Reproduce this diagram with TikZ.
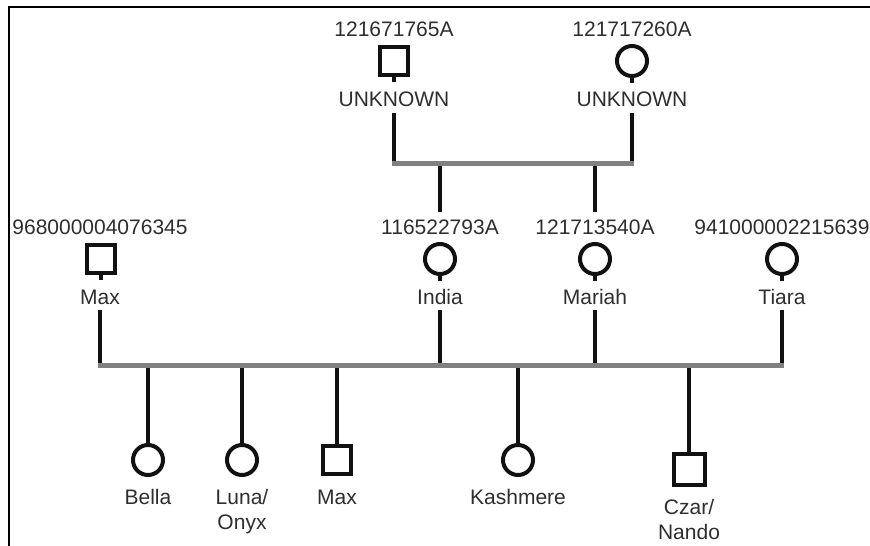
\documentclass[tikz,border=0pt]{standalone}
\usepackage{fontspec}
\setmainfont{Liberation Sans}
\usetikzlibrary{positioning}
\definecolor{ink}{HTML}{111111}
\definecolor{txt}{HTML}{2E2E2E}
\definecolor{bargray}{HTML}{808080}
\tikzset{
  male/.style={draw=ink, rectangle, line width=4pt, minimum size=28pt, inner sep=0pt},
  female/.style={draw=ink, circle, line width=4pt, minimum size=30pt, inner sep=0pt},
  tag/.style={text=txt, font=\fontsize{21}{25}\selectfont, anchor=base, inner sep=0pt, align=center},
  toptag/.style={tag, anchor=north},
  kin/.style={draw=ink, line width=4.5pt},
  bar/.style={draw=bargray, line width=5pt},
  frame/.style={draw=black, line width=2pt}
}

\begin{document}
\begin{tikzpicture}[x=1pt, y=-1pt]
\useasboundingbox (0,0) rectangle (870,546);
\draw[frame] (870,7) -- (9,7) -- (9,546);
\coordinate (topbar) at (0,163);
\coordinate (botbar) at (0,365);
% grandparents
\node[tag] (sireid) at (394,36) {121671765A};
\node[male] (sire) at (394,61) {};
\node[tag] (sirename) at (394,106) {UNKNOWN};
\node[tag] (damid) at (632,36) {121717260A};
\node[female] (dam) at (632,61) {};
\node[tag] (damname) at (632,106) {UNKNOWN};
% parents
\node[tag] (maxid) at (100,234) {968000004076345};
\node[male] (max) at (101,259) {};
\node[tag] (maxname) at (100,304) {Max};
\node[tag] (indiaid) at (440,234) {116522793A};
\node[female] (india) at (440,259) {};
\node[tag] (indianame) at (440,304) {India};
\node[tag] (mariahid) at (595,234) {121713540A};
\node[female] (mariah) at (595,259) {};
\node[tag] (mariahname) at (595,304) {Mariah};
\node[tag] (tiaraid) at (782,234) {941000002215639};
\node[female] (tiara) at (782,259) {};
\node[tag] (tiaraname) at (782,304) {Tiara};
% offspring
\node[female] (bella) at (148,460) {};
\node[tag] (bellaname) at (148,504) {Bella};
\node[female] (luna) at (242,460) {};
\node[toptag] (lunaname) at (242,489) {Luna/\\Onyx};
\node[male] (maxjr) at (337,460) {};
\node[tag] (maxjrname) at (337,504) {Max};
\node[female] (kash) at (518,460) {};
\node[tag] (kashname) at (518,504) {Kashmere};
\node[male, minimum size=31pt] (czar) at (689,469) {};
\node[toptag] (czarname) at (689,499) {Czar/\\Nando};
% stubs under parents
\foreach \n in {sire,dam,max,india,mariah,tiara}
  \draw[kin] (\n.south) -- ++(0,5);
% grandparents to parents
\draw[kin] ([yshift=-7pt]sirename.base) -- (sirename |- topbar);
\draw[kin] ([yshift=-7pt]damname.base) -- (damname |- topbar);
\draw[kin] (indiaid |- topbar) -- ([yshift=7pt]indiaid.north);
\draw[kin] (mariahid |- topbar) -- ([yshift=7pt]mariahid.north);
% parents to offspring
\foreach \n in {maxname,indianame,mariahname,tiaraname}
  \draw[kin] ([yshift=-6pt]\n.base) -- (\n |- botbar);
\foreach \n in {bella,luna,maxjr,kash,czar}
  \draw[kin] (\n |- botbar) -- (\n.north);
\draw[bar] ([xshift=-2pt]sirename |- topbar) -- ([xshift=2pt]damname |- topbar);
\draw[bar] ([xshift=-2pt]maxname |- botbar) -- ([xshift=2pt]tiaraname |- botbar);
\end{tikzpicture}
\end{document}
